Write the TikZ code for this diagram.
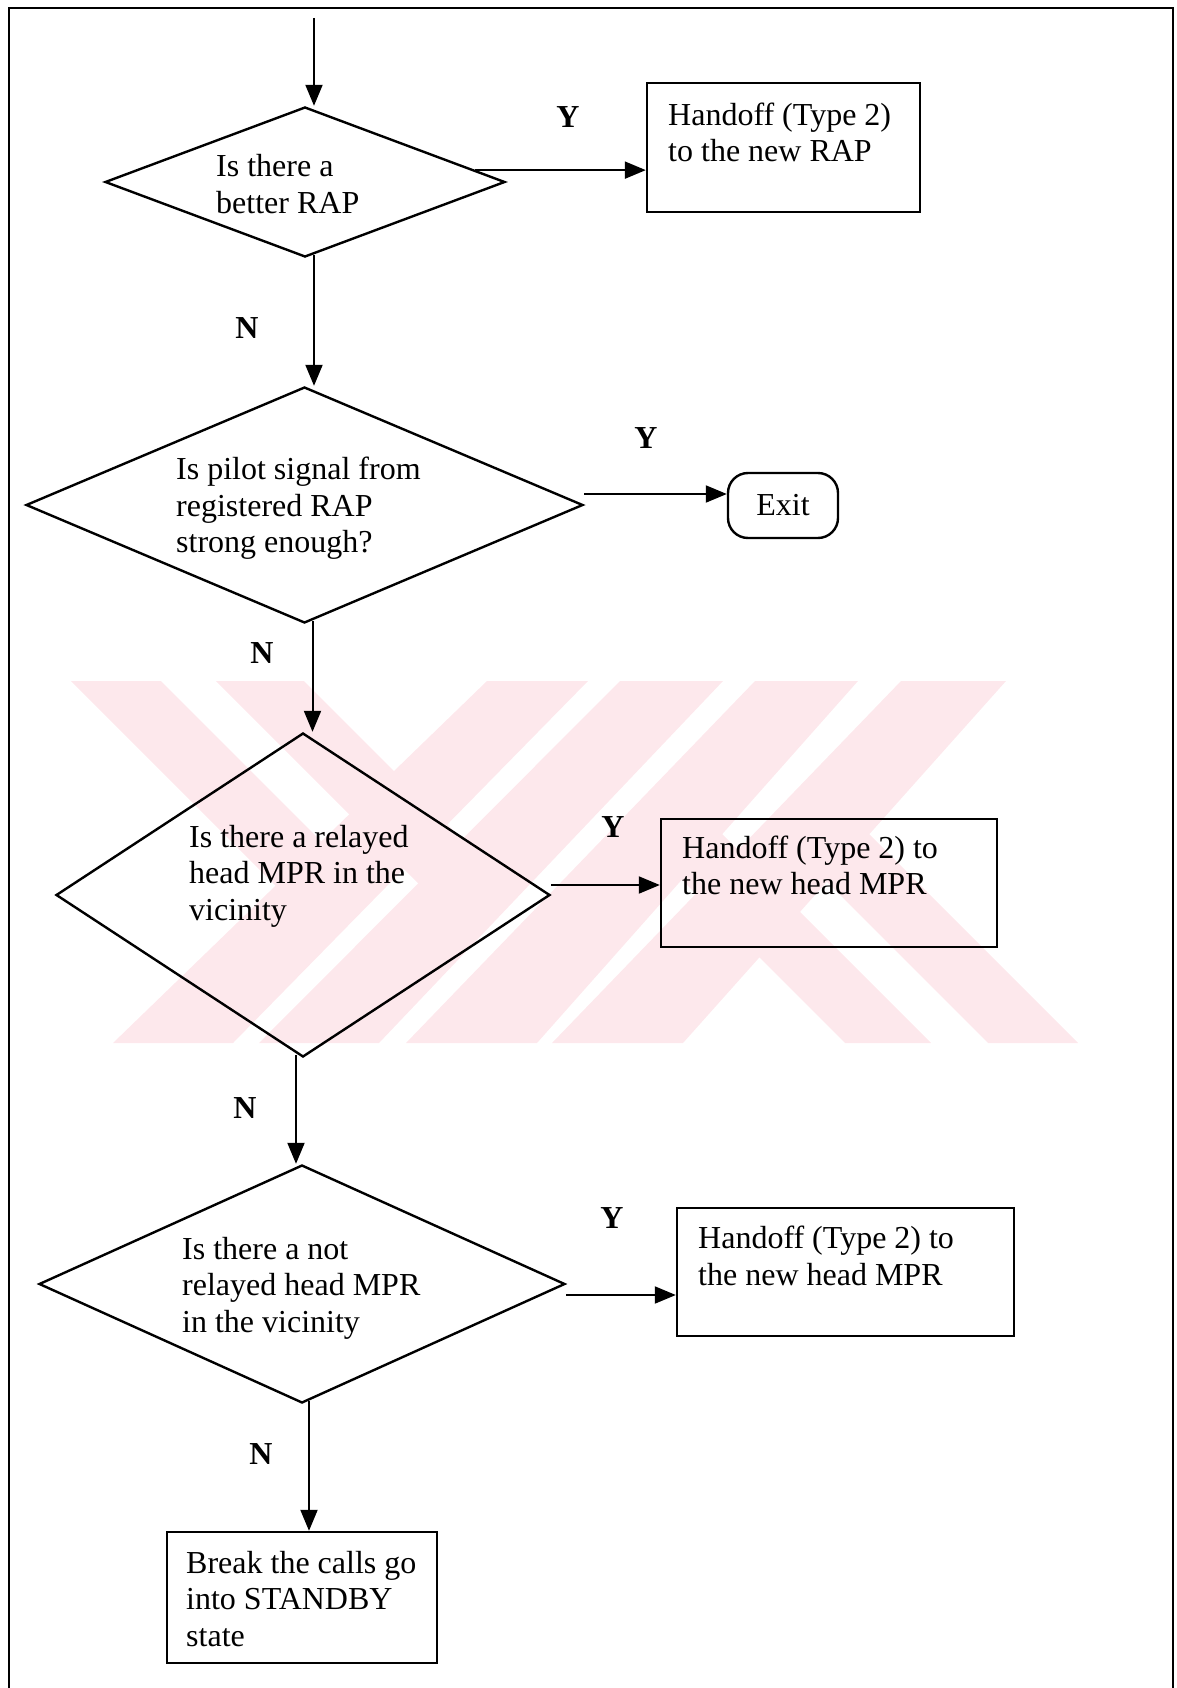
\documentclass[tikz,border=0pt]{standalone}
\usepackage{fontspec}
\setmainfont{Liberation Serif}
\usetikzlibrary{shapes.geometric,arrows.meta}
\definecolor{wm}{RGB}{253,232,236}
\begin{document}
\begin{tikzpicture}[x=1pt,y=-1pt,
  every node/.append style={font=\fontsize{32}{36.5}\selectfont},
  shp/.style={draw,line width=2.4pt,inner sep=0pt},
  dia/.style={shp,diamond},
  box/.style={shp,rectangle},
  txt/.style={anchor=west,align=left,inner sep=0pt},
  lab/.style={inner sep=0pt,font=\fontsize{32}{36.5}\selectfont\bfseries},
  arr/.style={line width=2pt,-{Triangle[length=21pt,width=17pt]}}]
\useasboundingbox (0,0) rectangle (1177,1688);
% watermark
\fill[wm] (487,681) -- (588,681) -- (233,1043) -- (113,1043) -- cycle;
\fill[wm] (620,681) -- (723,681) -- (379,1043) -- (259,1043) -- cycle;
\fill[wm] (755,681) -- (858,681) -- (537,1043) -- (406,1043) -- cycle;
\fill[wm] (901,681) -- (1006,681) -- (683,1043) -- (552,1043) -- cycle;
\fill[wm] (71,681) -- (161,681) -- (371,891) -- (281,891) -- cycle;
\fill[wm] (216,681) -- (304,681) -- (512,889) -- (424,889) -- cycle;
\fill[wm] (629,827) -- (715,827) -- (931,1043) -- (845,1043) -- cycle;
\fill[wm] (773,828) -- (863,828) -- (1078,1043) -- (988,1043) -- cycle;
% frame
\draw[line width=2pt] (9,1688) -- (9,8) -- (1173,8) -- (1173,1688);
% nodes
\node[dia,minimum width=400pt,minimum height=150pt] (d1) at (305,182) {};
\node[txt] (t1) at (216,184) {Is there a\\better RAP};
\node[box,minimum width=273pt,minimum height=129pt] (b1) at (783.5,147.5) {};
\node[txt] (tb1) at (668,132.5) {Handoff (Type 2)\\to the new RAP};
\node[dia,minimum width=557pt,minimum height=236pt] (d2) at (304.5,505) {};
\node[txt] (t2) at (176,508.5) {Is pilot signal from\\registered RAP\\strong enough?};
\node[box,rounded corners=20pt,minimum width=110pt,minimum height=65pt] (exit) at (783,505.5) {Exit};
\node[dia,minimum width=494pt,minimum height=324pt] (d3) at (303,895) {};
\node[txt] (t3) at (189,876) {Is there a relayed\\head MPR in the\\vicinity};
\node[box,minimum width=336pt,minimum height=128pt] (b3) at (829,883) {};
\node[txt] (tb3) at (682,865.5) {Handoff (Type 2) to\\the new head MPR};
\node[dia,minimum width=526pt,minimum height=238pt] (d4) at (302,1284) {};
\node[txt] (t4) at (182,1288) {Is there a not\\relayed head MPR\\in the vicinity};
\node[box,minimum width=337pt,minimum height=128pt] (b4) at (845.5,1272) {};
\node[txt] (tb4) at (698,1256) {Handoff (Type 2) to\\the new head MPR};
\node[box,minimum width=270pt,minimum height=131pt] (b5) at (302,1597.5) {};
\node[txt] (t5) at (186,1599) {Break the calls go\\into STANDBY\\state};
% labels
\node[lab] (y1) at (568,117) {Y};
\node[lab] (y2) at (646,438) {Y};
\node[lab] (y3) at (613,827) {Y};
\node[lab] (y4) at (612,1218) {Y};
\node[lab] (n1) at (247,328) {N};
\node[lab] (n2) at (262,653) {N};
\node[lab] (n3) at (245,1108) {N};
\node[lab] (n4) at (261,1454) {N};
% connectors
\coordinate (start) at (314,18);
\draw[arr] (start) -- (start |- d1.north);
\draw[arr] (d1.4) -- (d1.4 -| b1.west);
\draw[arr] ([xshift=9pt,yshift=3pt]d1.south) -- ([xshift=9pt]d1.south |- d2.north);
\draw[arr] ([yshift=11pt]d2.east) -- ([yshift=11pt]d2.east -| exit.west);
\draw[arr] ([xshift=8pt,yshift=3pt]d2.south) -- ([xshift=8pt]d2.south |- d3.north);
\draw[arr] ([yshift=10pt]d3.east) -- ([yshift=10pt]d3.east -| b3.west);
\draw[arr] ([xshift=-7pt,yshift=3pt]d3.south) -- ([xshift=-7pt]d3.south |- d4.north);
\draw[arr] ([yshift=-11pt]d4.east) -- ([yshift=-11pt]d4.east -| b4.west);
\draw[arr] ([xshift=7pt,yshift=3pt]d4.south) -- ([xshift=7pt]d4.south |- b5.north);
\end{tikzpicture}
\end{document}
